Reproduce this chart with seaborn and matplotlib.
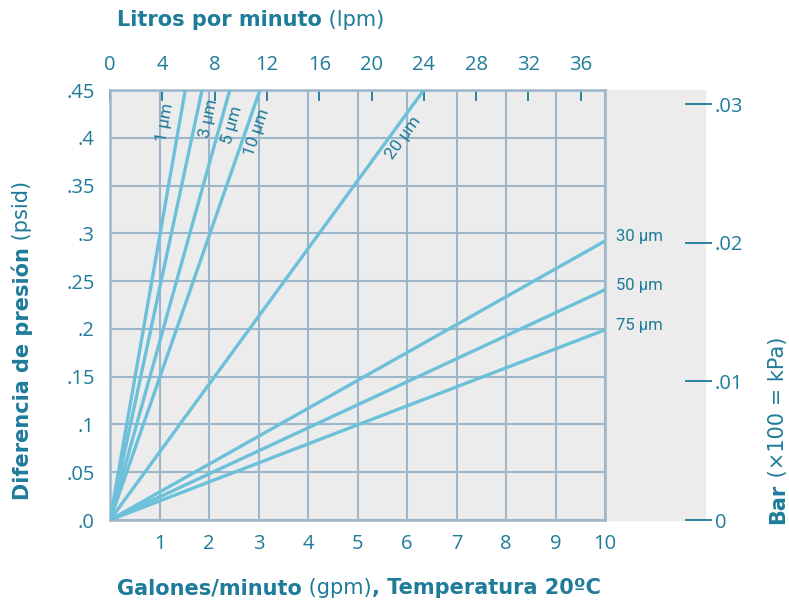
import numpy as np
import pandas as pd
import matplotlib
matplotlib.use("Agg")
import matplotlib.pyplot as plt
import seaborn as sns
from matplotlib.patches import Rectangle

# datos: cada linea va de (0, 0) al punto final
micras = ["1 µm", "3 µm", "5 µm", "10 µm", "20 µm", "30 µm", "50 µm", "75 µm"]
gpm_fin = [1.52, 1.86, 2.42, 3.03, 6.34, 10, 10, 10]
psid_fin = [0.45, 0.45, 0.45, 0.45, 0.45, 0.292, 0.241, 0.199]

gpm_ticks = [1, 2, 3, 4, 5, 6, 7, 8, 9, 10]
psid_ticks = [0, 0.05, 0.1, 0.15, 0.2, 0.25, 0.3, 0.35, 0.4, 0.45]
psid_labels = [".0", ".05", ".1", ".15", ".2", ".25", ".3", ".35", ".4", ".45"]
lpm_ticks = [0, 4, 8, 12, 16, 20, 24, 28, 32, 36]
bar_ticks = [0, 0.01, 0.02, 0.03]
bar_labels = ["0", ".01", ".02", ".03"]

LPM_POR_GPM = 3.785
PSI_POR_BAR = 14.5038

AZUL = "#6cc0da"
TEXTO = "#1e7b9a"
REJILLA = "#9db6c9"
FONDO = "#ececec"
TITULO = ["DejaVu Sans"]
TAM_T = 15

sns.set_theme(style="white")
plt.rcParams["font.family"] = ["Open Sans", "DejaVu Sans"]

filas = []
for m, x1, y1 in zip(micras, gpm_fin, psid_fin):
    filas.append({"serie": m, "gpm": 0.0, "psid": 0.0})
    filas.append({"serie": m, "gpm": x1, "psid": y1})
df = pd.DataFrame(filas)

fig = plt.figure(figsize=(7.89, 6.03), dpi=100)
ax = fig.add_axes([110 / 789, 83 / 603, 495 / 789, 430 / 603])
ax.set_facecolor(FONDO)
fig.add_artist(Rectangle((605 / 789, 83 / 603), 100 / 789, 430 / 603,
                         transform=fig.transFigure, color=FONDO, zorder=0))

sns.lineplot(data=df, x="gpm", y="psid", hue="serie", sort=False,
             palette=[AZUL] * len(micras), legend=False, linewidth=2.4,
             estimator=None, ax=ax, zorder=3)

ax.set_xlim(0, 10)
ax.set_ylim(0, 0.45)
ax.set_xticks(gpm_ticks)
ax.set_yticks(psid_ticks)
ax.set_yticklabels(psid_labels)
ax.grid(True, color=REJILLA, linewidth=1.5)
for s in ax.spines.values():
    s.set_color(REJILLA)
    s.set_linewidth(1.8)
ax.tick_params(axis="x", length=0, pad=10, labelsize=14.5, colors=TEXTO)
ax.tick_params(axis="y", length=0, pad=11, labelsize=14.5, colors=TEXTO)
ax.set_xlabel("")
ax.set_ylabel("")

# eje superior: litros por minuto
top = ax.secondary_xaxis("top", functions=(lambda g: g * LPM_POR_GPM,
                                           lambda l: l / LPM_POR_GPM))
top.set_xticks(lpm_ticks)
top.tick_params(direction="in", length=8, width=1.3, color=TEXTO,
                labelsize=14.5, labelcolor=TEXTO, pad=11)
top.spines["top"].set_visible(False)

# eje derecho: bar
der = ax.secondary_yaxis(1.1616, functions=(lambda p: p / PSI_POR_BAR,
                                            lambda b: b * PSI_POR_BAR))
der.set_yticks(bar_ticks)
der.set_yticklabels(bar_labels)
der.tick_params(direction="out", length=19.5, width=1.3, color=TEXTO,
                labelsize=14.5, labelcolor=TEXTO, pad=2)
der.spines["right"].set_visible(False)

# etiquetas de las lineas empinadas
etiq = [("1 µm", 1.11, 0.416, 80), ("3 µm", 2.0, 0.42, 78),
        ("5 µm", 2.46, 0.413, 74), ("10 µm", 2.97, 0.405, 71),
        ("20 µm", 5.92, 0.40, 54)]
for t, x, y, r in etiq:
    ax.text(x, y, t, rotation=r, ha="center", va="center", fontsize=12.5,
            color=TEXTO, family=["Roboto", "DejaVu Sans"], zorder=4)
for m, x1, y1 in zip(micras[5:], gpm_fin[5:], psid_fin[5:]):
    ax.annotate(m, xy=(x1, y1), xytext=(8, 3), textcoords="offset points",
                ha="left", va="center", fontsize=12, color=TEXTO,
                family=["Roboto", "DejaVu Sans"], annotation_clip=False)

# titulos de ejes con partes en negrita
t1 = fig.text(117 / 789, 1 - 20 / 603, "Litros por minuto", fontsize=TAM_T,
              fontweight="bold", color=TEXTO, va="center", ha="left",
              family=TITULO)
ax.annotate(" (lpm)", xy=(1, 0.5), xycoords=t1, fontsize=TAM_T, color=TEXTO,
            va="center", ha="left", family=TITULO)

b1 = fig.text(117 / 789, 1 - 588 / 603, "Galones/minuto", fontsize=TAM_T,
              fontweight="bold", color=TEXTO, va="center", ha="left",
              family=TITULO)
b2 = ax.annotate(" (gpm)", xy=(1, 0.5), xycoords=b1, fontsize=TAM_T,
                 color=TEXTO, va="center", ha="left", family=TITULO)
ax.annotate(", Temperatura 20ºC", xy=(1, 0.5), xycoords=b2, fontsize=TAM_T,
            fontweight="bold", color=TEXTO, va="center", ha="left",
            family=TITULO)

l1 = fig.text(22 / 789, 1 - 500 / 603, "Diferencia de presión",
              fontsize=TAM_T, fontweight="bold", color=TEXTO, va="bottom",
              ha="center", rotation=90, family=TITULO)
ax.annotate(" (psid)", xy=(0.5, 1), xycoords=l1, fontsize=TAM_T, color=TEXTO,
            va="bottom", ha="center", rotation=90, family=TITULO)

r1 = fig.text(778 / 789, 1 - 524 / 603, "Bar", fontsize=TAM_T,
              fontweight="bold", color=TEXTO, va="bottom", ha="center",
              rotation=90, family=TITULO)
ax.annotate(" (×100 = kPa)", xy=(0.5, 1), xycoords=r1, fontsize=TAM_T,
            color=TEXTO, va="bottom", ha="center", rotation=90, family=TITULO)

fig.savefig("out.png", dpi=100)
